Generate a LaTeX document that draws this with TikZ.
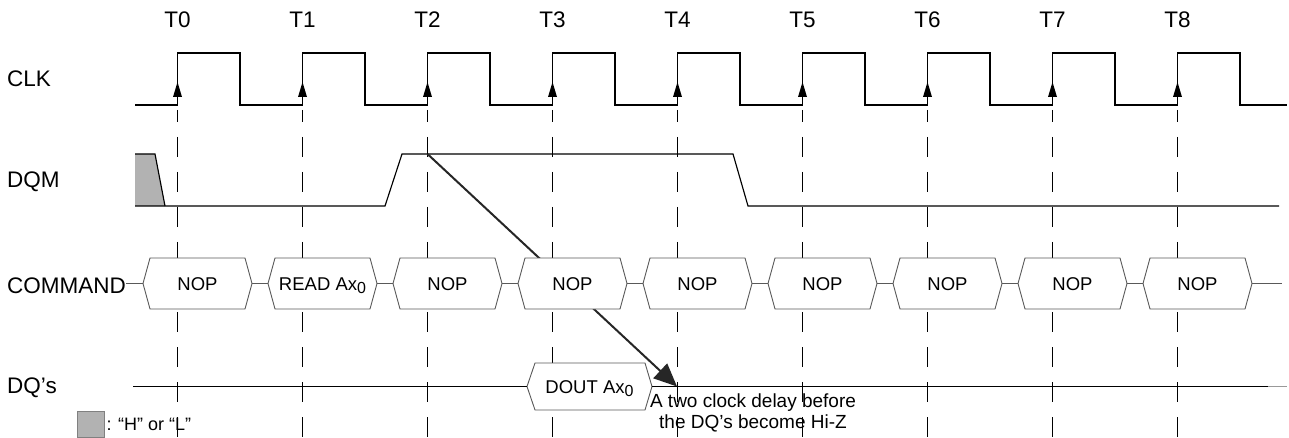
\documentclass[tikz,border=0pt]{standalone}
\usepackage{fontspec}
\setmainfont{Liberation Sans}
\usetikzlibrary{arrows.meta,positioning}
\newcommand{\lowzero}{\raisebox{-3pt}{\fontsize{16}{16}\selectfont 0}}

\begin{document}
\begin{tikzpicture}[
      x=1pt,y=-1pt,
      wave/.style ={line width=1.15pt},
      guide/.style ={line width=0.9pt,dash pattern=on 20pt off 15pt,dash phase=8pt},
      busbox/.style ={draw=black!65,fill=white,line width=0.9pt},
      busline/.style ={draw=black!65,line width=0.9pt},
      signame/.style ={anchor=base west,inner sep=0pt,font=\fontsize{22.5}{27}\selectfont},
      tickname/.style ={anchor=base,inner sep=0pt,font=\fontsize{22.5}{27}\selectfont},
      boxtext/.style ={anchor=base,inner sep=0pt,font=\fontsize{18.5}{22}\selectfont},
      hl/.style ={fill=black!30}
      ]
    \useasboundingbox (0,0) rectangle (1289,438);
    % clock edges, their names and the dashed guides
    \foreach \k in {0,...,8}{
      \coordinate (T\k) at ({177.5+125*\k},105);
      \node[tickname] (lab\k) at ({177.5+125*\k},28) {T\k};
      \draw[guide] (T\k) ++(0,5) -- ++(0,332);
    }
    \node[signame] (clk) at (7,87) {CLK};
    \draw[wave] (135,105) foreach \k in {0,...,8}{ -- (T\k) -- ++(0,-52) -- ++(62.5,0) -- ++(0,52) } -- (1287,105);
    \foreach \k in {0,...,8}
      \fill (T\k) ++(-4.5,-8) -- ++(4.5,-15) -- ++(4.5,15) -- cycle;
    % DQM
    \node[signame] (dqm) at (7,188) {DQM};
    \fill[hl] (135,154) -- (155,154) -- (165,206) -- (135,206) -- cycle;
    \draw[wave] (135,154) -- (155,154) -- (165,206);
    \draw[wave] (135,206) -- (385,206) -- (402,154) -- (733,154) -- (748,206) -- (1279,206);
    \coordinate (dqmT2) at (427.5,154);
    \coordinate (hiz) at (677,386.5);
    \draw[-{Triangle[length=23pt,width=20pt]},line width=2pt,black!85] (dqmT2) -- (hiz);
    % COMMAND bus
    \node[signame] (command) at (7,293) {COMMAND};
    \foreach \k/\txt in {0/NOP,1/READ Ax\lowzero,2/NOP,3/NOP,4/NOP,5/NOP,6/NOP,7/NOP,8/NOP}{
      \draw[busbox] ({143+125*\k},283.5) coordinate (cw\k) -- ++(7,-25.5) -- ++(95,0) -- ++(7,25.5) coordinate (ce\k) -- ++(-7,25.5) -- ++(-95,0) -- cycle;
      \node[boxtext] (cmd\k) at ({197.5+125*\k},290) {\txt};
    }
    \draw[busline] (command.east |- cw0) -- (cw0);
    \foreach \k/\j in {0/1,1/2,2/3,3/4,4/5,5/6,6/7,7/8}
      \draw[busline] (ce\k) -- (cw\j);
    \draw[busline] (ce8) -- ++(30,0);
    % DQ's
    \node[signame] (dqs) at (7,393) {DQ’s};
    \draw[busbox] (527,386.5) coordinate (dw) -- ++(8,-23.5) -- ++(110,0) -- ++(7,23.5) coordinate (de) -- ++(-7,23.5) -- ++(-110,0) -- cycle;
    \node[boxtext] (dout) at (589.5,393) {DOUT Ax\lowzero};
    \coordinate (dqstart) at (133,386.5);
    \coordinate (dqend) at (1268,386.5);
    \draw[wave] (dqstart) -- (dw) (de) -- (dqend);
    \draw[line width=1pt,black!40] (dqend) -- ++(19,0);
    \node[font=\fontsize{19}{21}\selectfont,align=center,anchor=north,inner sep=0pt] (note) at (753,394) {A two clock delay before\\the DQ’s become Hi-Z};
    % legend
    \node[hl,draw=black!50,line width=0.6pt,minimum width=27pt,minimum height=26pt,inner sep=0pt] (keybox) at (90.5,424) {};
    \node[right=2pt of keybox,inner sep=0pt,font=\fontsize{18}{20}\selectfont] (keytext) {: “H” or “L”};
\end{tikzpicture}
\end{document}
